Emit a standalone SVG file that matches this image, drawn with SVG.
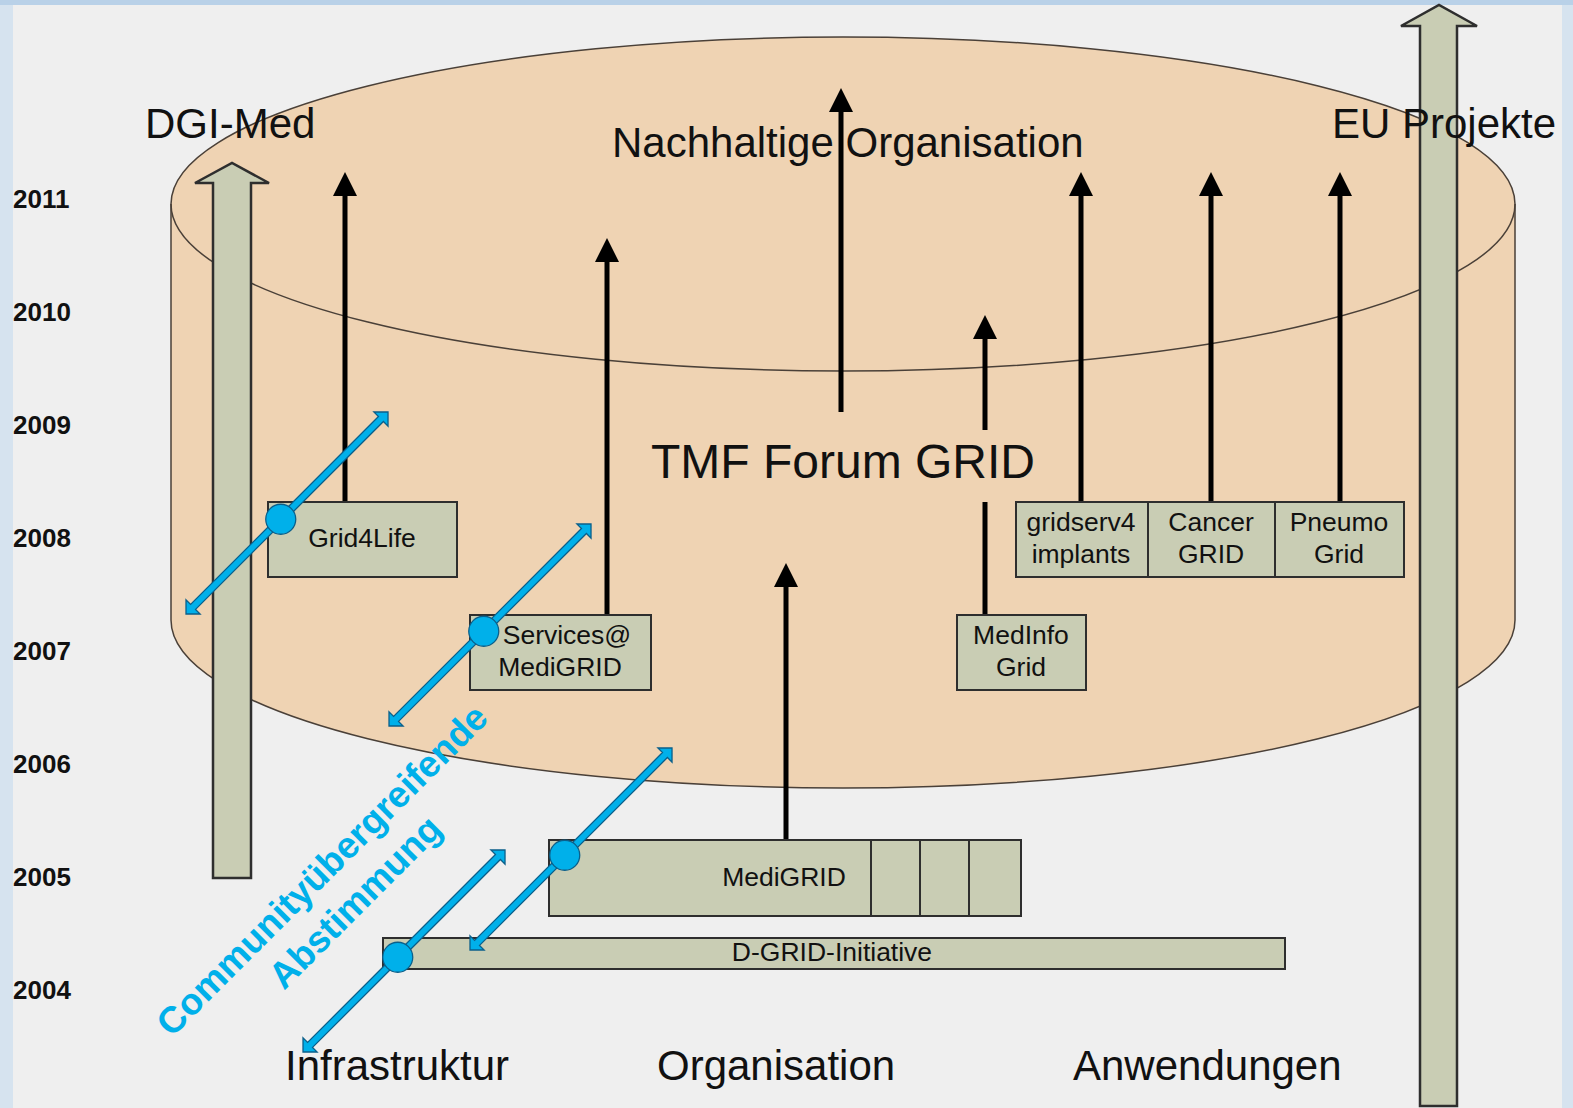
<svg xmlns="http://www.w3.org/2000/svg" width="1573" height="1108" viewBox="0 0 1573 1108">
<style>
text{font-family:"Liberation Sans",Arial,sans-serif;fill:#111}
.year{font-size:26px;font-weight:bold}
.big{font-size:42px}
.box{fill:#c9cdb4;stroke:#2e2e2e;stroke-width:2}
.lbl{font-size:26.5px;text-anchor:middle}
.blk{stroke:#000;stroke-width:5;fill:none}
.green{fill:#c9cdb4;stroke:#2e2e2e;stroke-width:2.5}
.blue{fill:#00b0ea;stroke:#0b5f8a;stroke-width:1.3}
.btxt{fill:#00b0ea;font-weight:bold;font-size:37px;text-anchor:middle}
</style>
<defs>
<marker id="ah" markerUnits="userSpaceOnUse" markerWidth="24" markerHeight="24" viewBox="0 0 24 24" refX="2" refY="12" orient="auto">
<path d="M0,0 L24,12 L0,24 Z" fill="#000"/>
</marker>
<g id="barrow">
<polygon class="blue" points="0,0 10,-10 10,-3.5 275.7,-3.5 275.7,-10 285.7,0 275.7,10 275.7,3.5 10,3.5 10,10"/>
<circle class="blue" cx="134" cy="0" r="15" stroke-width="1.8"/>
</g>
</defs>
<rect width="1573" height="1108" fill="#efefef"/>
<rect x="0" y="0" width="13" height="1108" fill="#d6e3ef"/>
<rect x="1562" y="0" width="11" height="1108" fill="#d6e3ef"/>
<rect x="0" y="0" width="1573" height="5" fill="#b9d1e8"/>

<g id="cylinder">
<path d="M171,204 A672,167 0 0 1 1515,204 L1515,620 A672,168 0 0 1 171,620 Z" fill="#efd3b3" stroke="#4a4038" stroke-width="1.5"/>
<path d="M171,204 A672,167 0 0 0 1515,204" fill="none" stroke="#4a4038" stroke-width="1.5"/>
</g>

<g id="years">
<text class="year" x="13" y="208">2011</text>
<text class="year" x="13" y="321">2010</text>
<text class="year" x="13" y="434">2009</text>
<text class="year" x="13" y="547">2008</text>
<text class="year" x="13" y="660">2007</text>
<text class="year" x="13" y="773">2006</text>
<text class="year" x="13" y="886">2005</text>
<text class="year" x="13" y="999">2004</text>
</g>

<g id="dgi-med-arrow"><polygon class="green" points="213,878 251,878 251,183 269,183 232,163 195,183 213,183"/></g>
<g id="eu-arrow"><polygon class="green" points="1420,1106 1457,1106 1457,26 1477,26 1439,5 1401,26 1420,26"/></g>

<g id="connectors">
<line class="blk" x1="345" y1="502" x2="345" y2="194" marker-end="url(#ah)"/>
<line class="blk" x1="607" y1="615" x2="607" y2="260" marker-end="url(#ah)"/>
<line class="blk" x1="841" y1="412" x2="841" y2="110" marker-end="url(#ah)"/>
<line class="blk" x1="985" y1="430" x2="985" y2="337" marker-end="url(#ah)"/>
<line class="blk" x1="985" y1="502" x2="985" y2="615"/>
<line class="blk" x1="786" y1="840" x2="786" y2="585" marker-end="url(#ah)"/>
<line class="blk" x1="1081" y1="502" x2="1081" y2="194" marker-end="url(#ah)"/>
<line class="blk" x1="1211" y1="502" x2="1211" y2="194" marker-end="url(#ah)"/>
<line class="blk" x1="1340" y1="502" x2="1340" y2="194" marker-end="url(#ah)"/>
</g>

<g id="labels">
<text class="big" x="145" y="138">DGI-Med</text>
<text class="big" x="1332" y="138">EU Projekte</text>
<text class="big" x="612" y="157" font-size="42.5">Nachhaltige Organisation</text>
<text x="651" y="478" font-size="48">TMF Forum GRID</text>
<text class="big" x="285" y="1080">Infrastruktur</text>
<text class="big" x="657" y="1080">Organisation</text>
<text class="big" x="1073" y="1080">Anwendungen</text>
</g>

<g id="grid4life"><rect class="box" x="268" y="502" width="189" height="75"/><text class="lbl" x="362" y="547">Grid4Life</text></g>
<g id="services-medigrid"><rect class="box" x="470" y="615" width="181" height="75"/><text class="lbl" x="567" y="644">Services@</text><text class="lbl" x="560" y="676">MediGRID</text></g>
<g id="medinfo-grid"><rect class="box" x="957" y="615" width="129" height="75"/><text class="lbl" x="1021" y="644">MedInfo</text><text class="lbl" x="1021" y="676">Grid</text></g>
<g id="gridserv4-implants"><rect class="box" x="1016" y="502" width="132" height="75"/><text class="lbl" x="1081" y="531">gridserv4</text><text class="lbl" x="1081" y="563">implants</text></g>
<g id="cancer-grid"><rect class="box" x="1148" y="502" width="127" height="75"/><text class="lbl" x="1211" y="531">Cancer</text><text class="lbl" x="1211" y="563">GRID</text></g>
<g id="pneumo-grid"><rect class="box" x="1275" y="502" width="129" height="75"/><text class="lbl" x="1339" y="531">Pneumo</text><text class="lbl" x="1339" y="563">Grid</text></g>
<g id="medigrid"><rect class="box" x="549" y="840" width="472" height="76"/><line x1="871" y1="840" x2="871" y2="916" stroke="#2e2e2e" stroke-width="2"/><line x1="920" y1="840" x2="920" y2="916" stroke="#2e2e2e" stroke-width="2"/><line x1="969" y1="840" x2="969" y2="916" stroke="#2e2e2e" stroke-width="2"/><text class="lbl" x="784" y="886">MediGRID</text></g>
<g id="d-grid-initiative"><rect class="box" x="383" y="938" width="902" height="31"/><text class="lbl" x="832" y="961">D-GRID-Initiative</text></g>

<g id="coordination">
<use href="#barrow" transform="translate(186,614) rotate(-45)"/>
<use href="#barrow" transform="translate(389,726) rotate(-45)"/>
<use href="#barrow" transform="translate(470,950) rotate(-45)"/>
<use href="#barrow" transform="translate(303,1052) rotate(-45)"/>
<text class="btxt" transform="translate(331,879) rotate(-45)">Communityübergreifende</text>
<text class="btxt" transform="translate(364,911) rotate(-45)">Abstimmung</text>
</g>
</svg>
